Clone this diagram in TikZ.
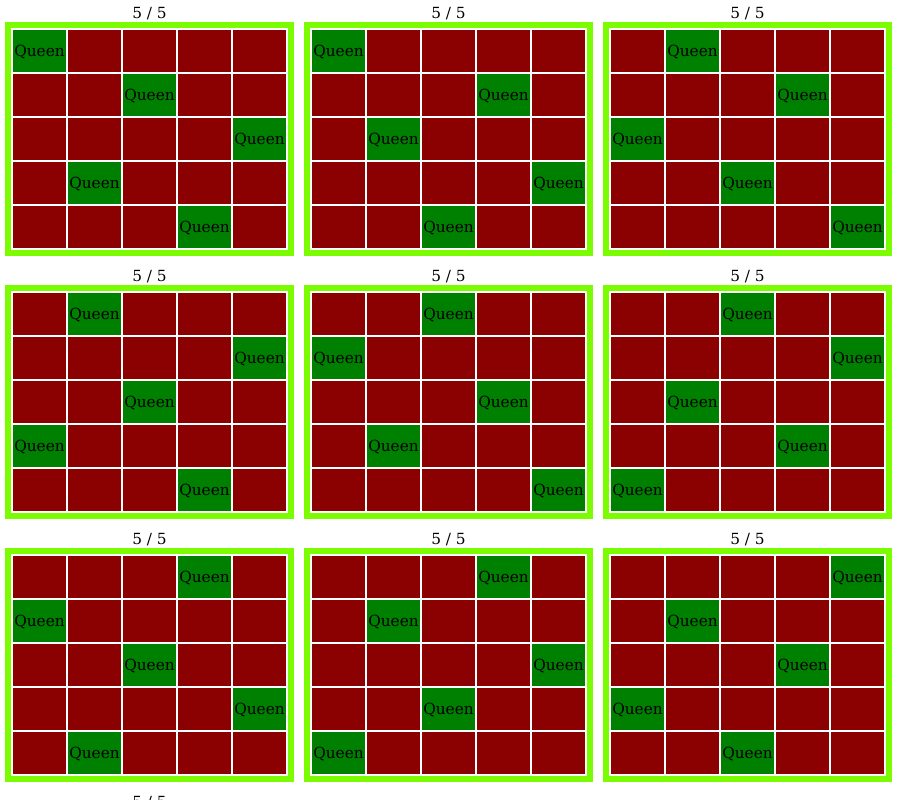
\documentclass[tikz,border=0pt]{standalone}
\usepackage{fontspec}
\setmainfont{DejaVu Serif}
\definecolor{frame}{HTML}{7CFC00}
\definecolor{cellred}{HTML}{8B0000}
\definecolor{qgreen}{HTML}{008000}
\begin{document}
\begin{tikzpicture}[x=0.75pt,y=-0.75pt,
  title/.style={font=\fontsize{11.5pt}{13pt}\selectfont, inner sep=0pt, text=black},
  queen/.style={font=\fontsize{11.5pt}{13pt}\selectfont, inner sep=0pt, text=black}]
\useasboundingbox (0,0) rectangle (913,799);
\fill[white] (0,0) rectangle (913,799);
\foreach \b/\cols in {0/{0,2,4,1,3},1/{0,3,1,4,2},2/{1,3,0,2,4},3/{1,4,2,0,3},4/{2,0,3,1,4},5/{2,4,1,3,0},6/{3,0,2,4,1},7/{3,1,4,2,0},8/{4,1,3,0,2}}{
  \pgfmathsetmacro\bx{5+299*mod(\b,3)}
  \pgfmathsetmacro\by{22+263*int(\b/3)}
  \node[title] (t\b) at (\bx+144.5,\by-8.5) {5 / 5};
  \fill[frame] (\bx,\by) rectangle ++(289,234);
  \fill[white] (\bx+6,\by+6) rectangle ++(277,222);
  \foreach \q [count=\r from 0] in \cols {
    \foreach \c in {0,...,4}{
      \ifnum\c=\q\relax\def\fc{qgreen}\else\def\fc{cellred}\fi
      \fill[\fc] (\bx+8+55*\c,\by+8+44*\r) rectangle ++(53,42);
    }
    \node[queen] (q\b-\r) at (\bx+8+55*\q+26.5,\by+8+44*\r+22.5) {Queen};
  }
}
\node[title] (t9) at (149.5,802.5) {5 / 5};
\end{tikzpicture}
\end{document}
